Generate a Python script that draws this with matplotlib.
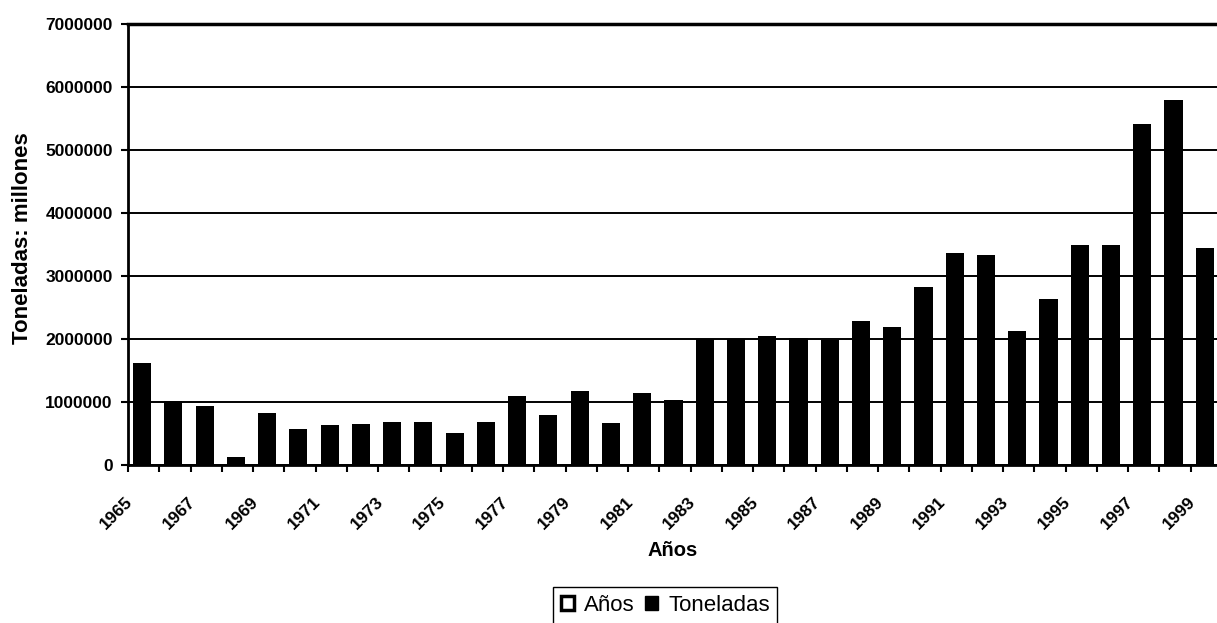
import numpy as np
import matplotlib
matplotlib.use("Agg")
import matplotlib.pyplot as plt
from matplotlib.patches import Patch

# data (toneladas per year)
anios = [1965, 1966, 1967, 1968, 1969, 1970, 1971, 1972, 1973, 1974,
         1975, 1976, 1977, 1978, 1979, 1980, 1981, 1982, 1983, 1984,
         1985, 1986, 1987, 1988, 1989, 1990, 1991, 1992, 1993, 1994,
         1995, 1996, 1997, 1998, 1999]
toneladas = [1620000, 1020000, 930000, 130000, 830000, 570000, 640000,
             650000, 680000, 680000, 510000, 680000, 1100000, 800000,
             1170000, 670000, 1140000, 1030000, 2000000, 2000000, 2040000,
             2010000, 1990000, 2290000, 2190000, 2830000, 3370000, 3330000,
             2130000, 2630000, 3490000, 3490000, 5420000, 5800000, 3440000]
y_ticks = [0, 1000000, 2000000, 3000000, 4000000, 5000000, 6000000, 7000000]

plt.rcParams["font.family"] = ["Liberation Sans", "DejaVu Sans"]

W, H = 1217, 623
fig = plt.figure(figsize=(W / 100, H / 100), dpi=100)
ax = fig.add_axes([128 / W, 1 - 465 / H, (1222 - 128) / W, (465 - 24) / H])

x = np.arange(len(anios))
ax.bar(x - 0.05, toneladas, width=0.58, color="black", zorder=3)

ax.set_xlim(-0.5, len(anios) - 0.5)
ax.set_ylim(0, 7000000)
ax.set_yticks(y_ticks)
ax.ticklabel_format(style="plain", axis="y", useOffset=False)
ax.yaxis.grid(True, color="black", linewidth=1.4, zorder=1)

# tick marks between categories, labels every second year
ax.set_xticks(np.arange(-0.5, len(anios), 1.0), minor=True)
ax.set_xticks(x[::2] - 0.42)
ax.set_xticklabels([str(a) for a in anios[::2]], rotation=45, ha="right",
                   va="center", rotation_mode="anchor",
                   fontsize=12.5, fontweight="bold")
ax.tick_params(axis="x", which="major", length=0, pad=25)
ax.tick_params(axis="x", which="minor", length=5, width=1.5, direction="out")
ax.tick_params(axis="y", length=5, width=1.5, direction="out", pad=6,
               labelsize=12.5)
for lbl in ax.get_yticklabels():
    lbl.set_fontweight("bold")

ax.spines["right"].set_visible(False)
ax.spines["top"].set_linewidth(2.5)
ax.spines["left"].set_linewidth(2.0)
ax.spines["bottom"].set_linewidth(2.0)

fig.text(23 / W, 1 - 238 / H, "Toneladas: millones", rotation=90,
         ha="center", va="center", fontsize=16, fontweight="bold")
fig.text(673 / W, 1 - 550 / H, "Años", ha="center", va="center",
         fontsize=14.5, fontweight="bold")

handles = [Patch(facecolor="white", edgecolor="black", linewidth=2.5),
           Patch(facecolor="black", edgecolor="black")]
leg = fig.legend(handles, ["Años", "Toneladas"], ncol=2, loc="upper left",
                 bbox_to_anchor=(553 / W, 1 - 587 / H), borderaxespad=0,
                 fontsize=16, handlelength=0.6, handleheight=0.6,
                 handletextpad=0.45, columnspacing=0.45, borderpad=0.35,
                 fancybox=False, framealpha=1)
leg.get_frame().set_edgecolor("black")
leg.get_frame().set_linewidth(1.0)

fig.savefig("out.png", dpi=100)
